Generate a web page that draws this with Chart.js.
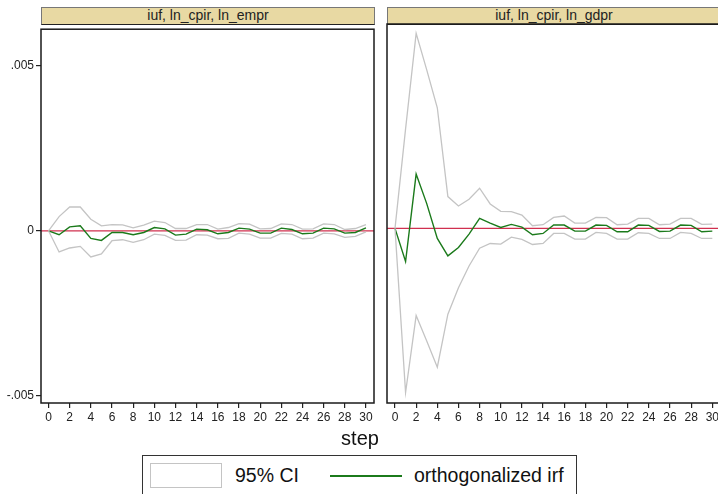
<!DOCTYPE html>
<html>
<head>
<meta charset="utf-8">
<script src="https://cdn.jsdelivr.net/npm/chart.js@4.4.1/dist/chart.umd.min.js"></script>
<style>
    body { margin: 0; background: #fff; font-family: "Liberation Sans", Arial, sans-serif; }
    #wrap { position: relative; width: 718px; height: 494px; overflow: hidden; background: #fff; }
    .hdr { position: absolute; top: 7px; height: 18px; box-sizing: border-box; background: #e8d9a3;
           border: 1px solid #777; border-bottom: 1.5px solid #222; font-size: 14px; color: #222;
           text-align: center; line-height: 15px; }
    canvas { position: absolute; top: 20px; }
    .txt { position: absolute; color: #111; white-space: nowrap; }
</style>
</head>
<body>
<div id="wrap">
    <div class="hdr" style="left:41px; width:334px;">iuf, ln_cpir, ln_empr</div>
    <div class="hdr" style="left:387px; width:334px;">iuf, ln_cpir, ln_gdpr</div>
    <canvas id="leftChart" width="378" height="413" style="left:0;"></canvas>
    <canvas id="rightChart" width="341" height="413" style="left:380px;"></canvas>

    <div class="txt" style="left:0; width:720px; top:427px; text-align:center; font-size:20px;">step</div>

    <div style="position:absolute; left:142px; top:455px; width:435px; height:60px; border:1px solid #333; box-sizing:border-box;"></div>
    <div style="position:absolute; left:150px; top:463px; width:72px; height:25px; border:1.5px solid #c4c4c4; box-sizing:border-box;"></div>
    <div class="txt" style="left:235px; top:464px; font-size:19.5px;">95% CI</div>
    <div style="position:absolute; left:330px; top:475px; width:72px; height:2px; background:#1b7a1b;"></div>
    <div class="txt" style="left:414px; top:464px; font-size:19.5px;">orthogonalized irf</div>
</div>

<script>
const steps = [0, 1, 2, 3, 4, 5, 6, 7, 8, 9, 10, 11, 12, 13, 14, 15, 16, 17, 18, 19, 20, 21, 22, 23, 24, 25, 26, 27, 28, 29, 30];
const xTicks = [0, 2, 4, 6, 8, 10, 12, 14, 16, 18, 20, 22, 24, 26, 28, 30];
const yTicks = [-0.005, 0, 0.005];
const yTickLabels = ['-.005', '0', '.005'];

// iuf -> ln_empr
const emprIrf = [0, -0.00012, 0.00012, 0.00015, -0.00023, -0.00029, -0.00005, -0.00005, -0.00012, -0.00005,
    0.0001, 0.00006, -0.00013, -0.0001, 0.00005, 0.00003, -0.00009, -0.00005, 0.00008, 0.00005,
    -0.00007, -0.00007, 0.00008, 0.00004, -0.00009, -0.00007, 0.00008, 0.00006, -0.00007, -0.00005, 0.00009];
const emprUpper = [0, 0.00043, 0.00072, 0.00072, 0.00035, 0.00015, 0.00019, 0.00018, 0.00009, 0.00017,
    0.00029, 0.00025, 0.00007, 0.00007, 0.00019, 0.00019, 0.00005, 0.0001, 0.00022, 0.0002,
    0.00006, 0.00007, 0.00021, 0.00019, 0.00005, 0.00006, 0.00021, 0.00019, 0.00004, 0.00007, 0.00019];
const emprLower = [0, -0.00064, -0.00052, -0.00047, -0.00079, -0.0007, -0.0003, -0.00027, -0.00035, -0.00027,
    -0.0001, -0.00014, -0.00029, -0.00028, -0.00012, -0.00013, -0.00024, -0.00023, -0.00007, -0.0001,
    -0.00022, -0.00022, -0.00008, -0.0001, -0.00024, -0.00022, -0.00007, -0.00009, -0.0002, -0.00017, -0.00003];

// iuf -> ln_gdpr
const gdprIrf = [0, -0.00099, 0.00162, 0.00074, -0.0003, -0.00082, -0.00057, -0.00017, 0.0003, 0.00016,
    0.00003, 0.00012, 0.00004, -0.00019, -0.00015, 0.0001, 0.0001, -0.00008, -0.00008, 0.0001,
    0.00009, -0.0001, -0.0001, 0.0001, 0.00009, -0.00009, -0.00008, 0.0001, 0.00009, -0.0001, -0.00008];
const gdprUpper = [0, 0.00297, 0.00582, 0.00473, 0.0036, 0.00095, 0.00067, 0.00087, 0.0012, 0.00073,
    0.00051, 0.0005, 0.0004, 0.00008, 0.00011, 0.00033, 0.00037, 0.00016, 0.00016, 0.00033,
    0.00032, 0.00011, 0.00013, 0.0003, 0.0003, 0.00011, 0.00013, 0.0003, 0.0003, 0.00012, 0.00013];
const gdprLower = [0, -0.0049, -0.0026, -0.00336, -0.00414, -0.00256, -0.00177, -0.00112, -0.00059, -0.00045,
    -0.00047, -0.00026, -0.00033, -0.00048, -0.00045, -0.00015, -0.00015, -0.00032, -0.00032, -0.00012,
    -0.00015, -0.00032, -0.00032, -0.00013, -0.00015, -0.0003, -0.0003, -0.00012, -0.00015, -0.0003, -0.0003];

const ciColor = '#c4c4c4';
const irfColor = '#1b7a1b';
const zeroColor = '#d0304f';

Chart.defaults.font.family = '"Liberation Sans", Arial, sans-serif';
Chart.defaults.color = '#222';

function pairs(values) {
    return steps.map((s, i) => ({ x: s, y: values[i] }));
}

// red line at zero plus the box around the plot region
const framePlugin = {
    id: 'frame',
    beforeDatasetsDraw(chart) {
        const { ctx, chartArea } = chart;
        const y0 = chart.scales.y.getPixelForValue(0);
        ctx.save();
        ctx.strokeStyle = zeroColor;
        ctx.lineWidth = 1.3;
        ctx.beginPath();
        ctx.moveTo(chartArea.left, y0);
        ctx.lineTo(chartArea.right, y0);
        ctx.stroke();
        ctx.restore();
    },
    afterDraw(chart) {
        const { ctx, chartArea } = chart;
        ctx.save();
        ctx.strokeStyle = '#1a1a1a';
        ctx.lineWidth = 1.5;
        ctx.strokeRect(chartArea.left, chartArea.top, chartArea.right - chartArea.left, chartArea.bottom - chartArea.top);
        ctx.restore();
    }
};

function makePanel(canvasId, irf, upper, lower, xMin, xMax, showY, padding) {
    const ctx = document.getElementById(canvasId).getContext('2d');
    return new Chart(ctx, {
        type: 'line',
        data: {
            datasets: [
                { label: 'upper', data: pairs(upper), borderColor: ciColor, borderWidth: 1.3 },
                { label: 'lower', data: pairs(lower), borderColor: ciColor, borderWidth: 1.3 },
                { label: 'orthogonalized irf', data: pairs(irf), borderColor: irfColor, borderWidth: 1.4 }
            ]
        },
        options: {
            responsive: false,
            animation: false,
            layout: { padding: padding },
            elements: { point: { radius: 0 }, line: { tension: 0, fill: false } },
            plugins: { legend: { display: false }, tooltip: { enabled: false } },
            scales: {
                x: {
                    type: 'linear',
                    min: xMin,
                    max: xMax,
                    border: { display: false },
                    grid: { drawOnChartArea: false, drawTicks: true, tickLength: 5, tickColor: '#222', lineWidth: 1.2 },
                    ticks: { font: { size: 12 }, padding: 2, maxRotation: 0, autoSkip: false },
                    afterBuildTicks: scale => { scale.ticks = xTicks.map(v => ({ value: v })); },
                    afterFit: scale => { scale.height = 30; }
                },
                y: {
                    display: showY,
                    min: -0.00521,
                    max: 0.0061,
                    border: { display: false },
                    grid: { drawOnChartArea: false, drawTicks: true, tickLength: 5, tickColor: '#222', lineWidth: 1.2 },
                    ticks: {
                        font: { size: 12 },
                        padding: 2,
                        callback: v => yTickLabels[yTicks.indexOf(v)]
                    },
                    afterBuildTicks: scale => { scale.ticks = yTicks.map(v => ({ value: v })); },
                    afterFit: scale => { scale.width = showY ? 41 : 0; }
                }
            }
        },
        plugins: [framePlugin]
    });
}

makePanel('leftChart', emprIrf, emprUpper, emprLower, -0.71, 30.76, true, { top: 4, right: 4, left: 0, bottom: 0 });
makePanel('rightChart', gdprIrf, gdprUpper, gdprLower, -0.756, 30.61, false, { top: 4, right: 1, left: 7, bottom: 0 });
</script>
</body>
</html>
